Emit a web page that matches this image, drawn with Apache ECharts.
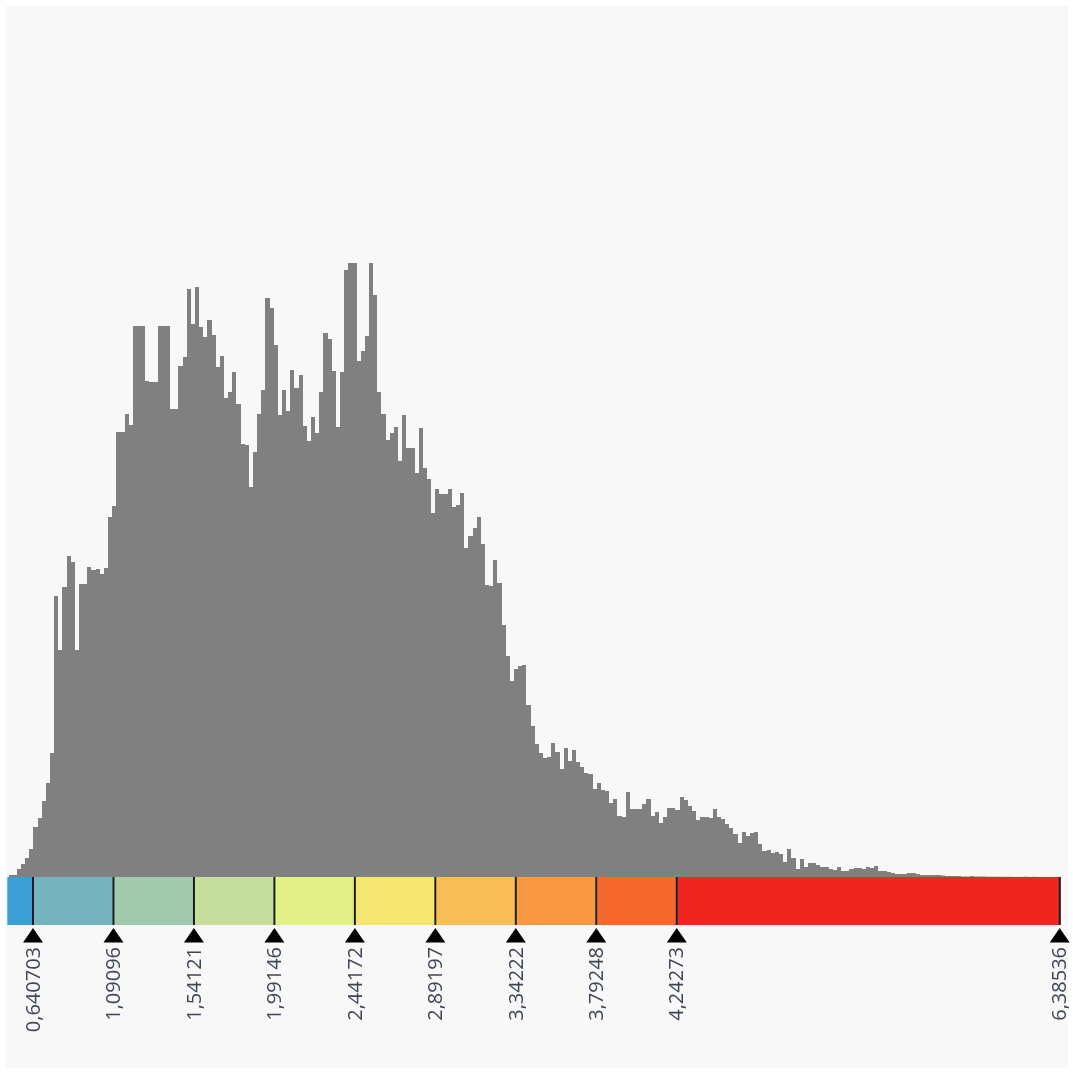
<!DOCTYPE html>
<html>
<head>
<meta charset="utf-8">
<title>Histogramme et classes</title>
<script src="https://cdn.jsdelivr.net/npm/echarts@6/dist/echarts.min.js"></script>
<style>
  html, body { margin: 0; padding: 0; background: #ffffff; }
  #panel { position: absolute; left: 6px; top: 6px; width: 1062px; height: 1062px; background: #f8f8f8; }
  #chart { position: absolute; left: 0; top: 0; width: 1073px; height: 1073px; }
</style>
</head>
<body>
<div id="panel"></div>
<div id="chart"></div>
<script>
// Value range of the colour scale and of the histogram
const AXIS_MIN = 0.4913;
const AXIS_MAX = 6.38536;
const HIST_MIN = 0.4986;
const HIST_MAX = 6.38536;

// Histogram counts, one per bin (254 equal bins between HIST_MIN and HIST_MAX)
const COUNTS = [
  20, 20, 80, 130, 190, 280, 500, 590, 760, 940,
  1240, 2810, 2270, 2900, 3210, 3150, 2270, 2930, 2930, 3100,
  3070, 3080, 3030, 3090, 3600, 3710, 4450, 4450, 4630, 4520,
  5510, 5510, 5510, 4960, 4950, 4950, 5510, 5510, 5510, 4680,
  4680, 5110, 5200, 5880, 5530, 5900, 5500, 5400, 5570, 5420,
  5100, 5210, 4790, 4850, 5050, 4730, 4330, 4320, 3900, 4250,
  4630, 4870, 5790, 5690, 5320, 4620, 4870, 4660, 5070, 4890,
  5020, 4510, 4360, 4600, 4440, 4850, 5440, 5380, 5060, 4500,
  5050, 6070, 6140, 6140, 5160, 5260, 5410, 6140, 5820, 4850,
  4630, 4370, 4440, 4500, 4160, 4620, 4290, 4290, 4040, 4490,
  4090, 3980, 3640, 3880, 3830, 3830, 3880, 3700, 3720, 3840,
  3290, 3410, 3490, 3600, 3330, 2920, 2910, 3170, 2940, 2520,
  2210, 1960, 2080, 2110, 2120, 1720, 1510, 1330, 1240, 1190,
  1200, 1340, 1250, 1080, 1290, 1160, 1270, 1150, 1100, 1040,
  1030, 880, 940, 870, 860, 740, 780, 610, 600, 850,
  680, 680, 680, 730, 780, 610, 650, 540, 600, 690,
  690, 670, 800, 770, 710, 660, 570, 600, 600, 590,
  680, 600, 580, 530, 490, 430, 340, 450, 410, 440,
  450, 330, 260, 270, 240, 250, 230, 150, 280, 190,
  80, 180, 100, 140, 140, 120, 100, 100, 80, 70,
  100, 60, 60, 80, 90, 90, 80, 100, 90, 110,
  60, 60, 50, 40, 30, 30, 30, 40, 40, 30,
  20, 20, 20, 20, 20, 15, 10, 10, 10, 10,
  5, 5, 10, 5, 5, 5, 3, 3, 3, 2,
  2, 3, 1, 1, 1, 3, 1, 2, 1, 1,
  1, 1, 1, 1
];

// Class breaks and their printed labels
const BREAKS = [0.640703, 1.09096, 1.54121, 1.99146, 2.44172, 2.89197, 3.34222, 3.79248, 4.24273, 6.38536];
const BREAK_LABELS = ['0,640703', '1,09096', '1,54121', '1,99146', '2,44172', '2,89197', '3,34222', '3,79248', '4,24273', '6,38536'];

// One colour per class, from the scale minimum to the last break
const CLASS_COLORS = ['#3b9fd3', '#75b3bf', '#a1c9ae', '#c5de9e', '#e1f087', '#f5e66f', '#f7be56', '#f99842', '#f5692c', '#ee261f'];

const Y_MAX = 6210;

const binWidth = (HIST_MAX - HIST_MIN) / COUNTS.length;
const histData = COUNTS.map((c, i) => [HIST_MIN + i * binWidth, HIST_MIN + (i + 1) * binWidth, c]);

const classData = CLASS_COLORS.map((col, i) => [i === 0 ? AXIS_MIN : BREAKS[i - 1], BREAKS[i], i]);
const breakData = BREAKS.map(b => [b]);

const chart = echarts.init(document.getElementById('chart'), null, { renderer: 'canvas' });

const GRID_LEFT = 7.3;
const GRID_WIDTH = 1053.4;

chart.setOption({
  animation: false,
  backgroundColor: 'transparent',
  grid: [
    { left: GRID_LEFT, width: GRID_WIDTH, top: 256, height: 621 },
    { left: GRID_LEFT, width: GRID_WIDTH, top: 877, height: 48 }
  ],
  xAxis: [
    { gridIndex: 0, type: 'value', min: AXIS_MIN, max: AXIS_MAX, show: false },
    {
      gridIndex: 1, type: 'value', min: AXIS_MIN, max: AXIS_MAX,
      axisLine: { show: false },
      axisTick: { show: false },
      splitLine: { show: false },
      axisLabel: {
        customValues: BREAKS,
        rotate: 90,
        margin: 22,
        fontSize: 20,
        fontFamily: 'Open Sans',
        color: '#3d4757',
        showMinLabel: true,
        showMaxLabel: true,
        formatter: function (v) {
          let best = 0;
          for (let i = 1; i < BREAKS.length; i++) {
            if (Math.abs(BREAKS[i] - v) < Math.abs(BREAKS[best] - v)) best = i;
          }
          return BREAK_LABELS[best];
        }
      }
    }
  ],
  yAxis: [
    { gridIndex: 0, type: 'value', min: 0, max: Y_MAX, show: false },
    { gridIndex: 1, type: 'value', min: 0, max: 1, show: false }
  ],
  series: [
    {
      name: 'histogram',
      type: 'custom',
      xAxisIndex: 0, yAxisIndex: 0,
      data: histData,
      encode: { x: [0, 1], y: 2 },
      renderItem: function (params, api) {
        const p0 = api.coord([api.value(0), api.value(2)]);
        const p1 = api.coord([api.value(1), 0]);
        // snap bin edges to whole pixels so neighbouring bins join without seams
        const x0 = Math.round(p0[0]);
        const x1 = Math.round(p1[0]);
        return {
          type: 'rect',
          shape: { x: x0, y: p0[1], width: x1 - x0, height: p1[1] - p0[1] },
          style: { fill: '#808080' }
        };
      }
    },
    {
      name: 'classes',
      type: 'custom',
      xAxisIndex: 1, yAxisIndex: 1,
      data: classData,
      encode: { x: [0, 1] },
      renderItem: function (params, api) {
        const p0 = api.coord([api.value(0), 1]);
        const p1 = api.coord([api.value(1), 0]);
        return {
          type: 'rect',
          shape: { x: p0[0], y: p0[1], width: p1[0] - p0[0], height: p1[1] - p0[1] },
          style: { fill: CLASS_COLORS[api.value(2)] }
        };
      }
    },
    {
      name: 'breaks',
      type: 'custom',
      xAxisIndex: 1, yAxisIndex: 1,
      data: breakData,
      encode: { x: 0 },
      z: 5,
      renderItem: function (params, api) {
        const top = api.coord([api.value(0), 1]);
        const bot = api.coord([api.value(0), 0]);
        const x = top[0] - 1;
        return {
          type: 'group',
          children: [
            {
              type: 'line',
              shape: { x1: x, y1: top[1], x2: x, y2: bot[1] },
              style: { stroke: '#1e1e1e', lineWidth: 2 }
            },
            {
              type: 'polygon',
              shape: { points: [[x, bot[1] + 3], [x + 10, bot[1] + 17.5], [x - 10, bot[1] + 17.5]] },
              style: { fill: '#000000' }
            }
          ]
        };
      }
    }
  ]
});
</script>
</body>
</html>
